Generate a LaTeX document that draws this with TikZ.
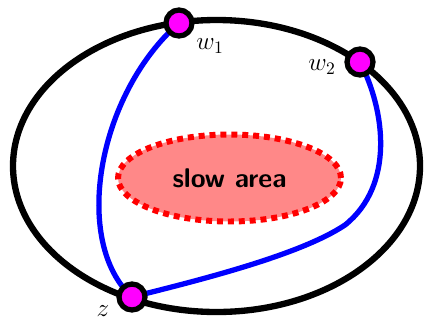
\documentclass[tikz,border=0pt]{standalone}
\usetikzlibrary{shapes.geometric}
\pgfdeclarelayer{bg}
\pgfsetlayers{bg,main}
\definecolor{vmag}{RGB}{255,0,255}
\definecolor{rblue}{RGB}{0,0,255}
\definecolor{sred}{RGB}{255,0,0}
\definecolor{sfill}{RGB}{255,136,136}
\begin{document}
\begin{tikzpicture}[x=0.02cm,y=-0.02cm,
  vert/.style={circle,draw=black,fill=vmag,line width=3pt,minimum size=0.52cm,inner sep=0pt},
  lbl/.style={font=\Large},
  route/.style={rblue,line width=3pt},
  border/.style={black,line width=3.6pt},
  slow/.style={ellipse,draw=sred,fill=sfill,line width=3.4pt,dash pattern=on 3.4pt off 2.8pt,
    minimum width=4.46cm,minimum height=1.74cm,font=\sffamily\bfseries\fontsize{15.4}{18}\selectfont}
]
  \useasboundingbox (0,0) rectangle (425,322);
  \node[slow] (area) at (229.5,178) {slow area};
  \node[vert] (w1) at (179,23) {};
  \node[vert] (w2) at (360,62) {};
  \node[vert] (z)  at (132,297) {};
  \node[lbl] (lw1) at (210,46) {$w_1$};
  \node[lbl] (lw2) at (322,67) {$w_2$};
  \node[lbl] (lz)  at (103,311) {$z$};
  \begin{pgfonlayer}{bg}
    \draw[border] (216.5,166) ellipse [x radius=203.5, y radius=146];
    \draw[route] (w1.center) .. controls (97,95) and (72,242) .. (z.center);
    \draw[route] (w2.center) .. controls (385,110) and (395,185) .. (345,225)
      .. controls (300,255) and (200,280) .. (z.center);
  \end{pgfonlayer}
\end{tikzpicture}
\end{document}
